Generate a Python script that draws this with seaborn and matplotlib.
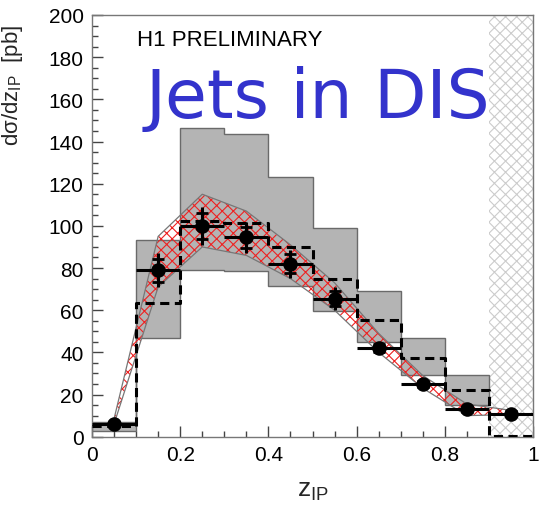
import numpy as np
import pandas as pd
import matplotlib
matplotlib.use("Agg")
import matplotlib.pyplot as plt
import seaborn as sns

# ---------------- data ----------------
bin_edges = [0.0, 0.1, 0.2, 0.3, 0.4, 0.5, 0.6, 0.7, 0.8, 0.9, 1.0]
bin_centers = [0.05, 0.15, 0.25, 0.35, 0.45, 0.55, 0.65, 0.75, 0.85, 0.95]

# H1 data
data_y = [6, 79, 100, 94.5, 82, 65.5, 42, 25, 13, 11]
data_tot_err = [1.5, 8, 9, 7.5, 6.5, 5.5, 3, 2, 2, 2]
data_stat_err = [1.0, 5.5, 6, 5, 4.5, 3.5, 2, 1.2, 1.2, 1.2]

# gray band (theory with uncertainty), bins 0..0.9
gray_lo = [2.8, 47, 79, 78.7, 71.6, 59.7, 44.7, 29.2, 15.0]
gray_hi = [6.8, 93.4, 146.2, 143.6, 123.4, 98.8, 68.9, 46.6, 29.2]

# dashed histogram (MC prediction)
dashed_y = [5, 63.4, 102.4, 101.3, 90.1, 75, 55.5, 37.3, 22.3, 0.3]

# red hatched band (at bin centres)
red_lo = [6, 71, 90, 86, 75, 60, 40, 23, 10, 10.5]
red_hi = [8.5, 95, 115, 107, 91, 73, 49, 29, 15.5, 12.5]

# excluded region
excl_range = [0.9, 1.0]

xticks = [0, 0.2, 0.4, 0.6, 0.8, 1.0]
xtick_labels = ["0", "0.2", "0.4", "0.6", "0.8", "1"]
yticks = [0, 20, 40, 60, 80, 100, 120, 140, 160, 180, 200]

# ---------------- style ----------------
sns.set_theme(style="white")
plt.rcParams["font.family"] = ["Liberation Sans", "DejaVu Sans"]
plt.rcParams["hatch.linewidth"] = 0.8

fig = plt.figure(figsize=(5.39, 5.10), dpi=100)
ax = fig.add_axes([92 / 539, 1 - 437.7 / 510, (533 - 92) / 539, (437.7 - 16) / 510])

# excluded hatched region
ax.fill_between(excl_range, [0, 0], [200, 200], facecolor="white",
                edgecolor="#cccccc", hatch="xxx", linewidth=0, zorder=1)

# gray band
ax.stairs(gray_hi, bin_edges[:-1], baseline=gray_lo, fill=True,
          facecolor="#b4b4b4", edgecolor="none", zorder=2)
ax.stairs(gray_hi, bin_edges[:-1], baseline=gray_lo, fill=False,
          color="#6a6a6a", linewidth=1.0, zorder=2.1)

# red hatched band
ax.fill_between(bin_centers, red_lo, red_hi, facecolor="none",
                edgecolor="#ee2222", hatch="xxx", linewidth=0, zorder=3)
ax.fill_between(bin_centers, red_lo, red_hi, facecolor="none",
                edgecolor="#777777", linewidth=0.9, zorder=3.1)

# dashed histogram via seaborn
df_hist = pd.DataFrame({"z": bin_centers, "w": dashed_y})
sns.histplot(data=df_hist, x="z", weights="w", bins=bin_edges, element="step",
             fill=False, color="black", linewidth=2.2, linestyle=(0, (3, 1.8)),
             ax=ax, zorder=4)

# data points
ax.errorbar(bin_centers, data_y, yerr=data_tot_err, xerr=0.05, fmt="none",
            ecolor="black", elinewidth=2.2, capsize=0, zorder=5)
ax.errorbar(bin_centers, data_y, yerr=data_stat_err, fmt="none",
            ecolor="black", elinewidth=2.2, capsize=4.5, capthick=2.0, zorder=5)
df_pts = pd.DataFrame({"z": bin_centers, "y": data_y})
sns.scatterplot(data=df_pts, x="z", y="y", color="black", s=110,
                edgecolor="black", linewidth=0, ax=ax, zorder=6)

# axes
ax.set_xlim(0, 1.0)
ax.set_ylim(0, 200)
ax.set_xticks(xticks)
ax.set_xticklabels(xtick_labels)
ax.set_yticks(yticks)
ax.set_xticks(np.arange(0, 1.0001, 0.05), minor=True)
ax.set_yticks(np.arange(0, 200.001, 5), minor=True)
ax.tick_params(axis="both", which="major", direction="in", length=8, width=1,
               color="#444444", labelsize=15, pad=6, colors="#444444",
               labelcolor="black")
ax.tick_params(axis="both", which="minor", direction="in", length=4.5, width=1,
               color="#444444")
ax.tick_params(top=False, right=False, which="both")
ax.tick_params(axis="both", which="both", bottom=True, left=True)
for s in ax.spines.values():
    s.set_color("#777777")
    s.set_linewidth(1.0)
    s.set_visible(True)

ax.set_xlabel("z$_{\\mathregular{IP}}$", fontsize=19, labelpad=10)
ax.set_ylabel("d\u03c3/dz$_{\\mathregular{IP}}$  [pb]", fontsize=16, labelpad=6)
ax.yaxis.set_label_coords(-0.152, 0.835)

ax.text(0.102, 0.941, "H1 PRELIMINARY", transform=ax.transAxes, fontsize=16,
        ha="left", va="center", color="black", zorder=7)
ax.text(0.512, 0.7575, "Jets in DIS", transform=ax.transAxes, fontsize=49,
        ha="center", va="baseline", color="#3333cc", zorder=7,
        family=["DejaVu Sans"])

fig.savefig("out.png", dpi=100)
